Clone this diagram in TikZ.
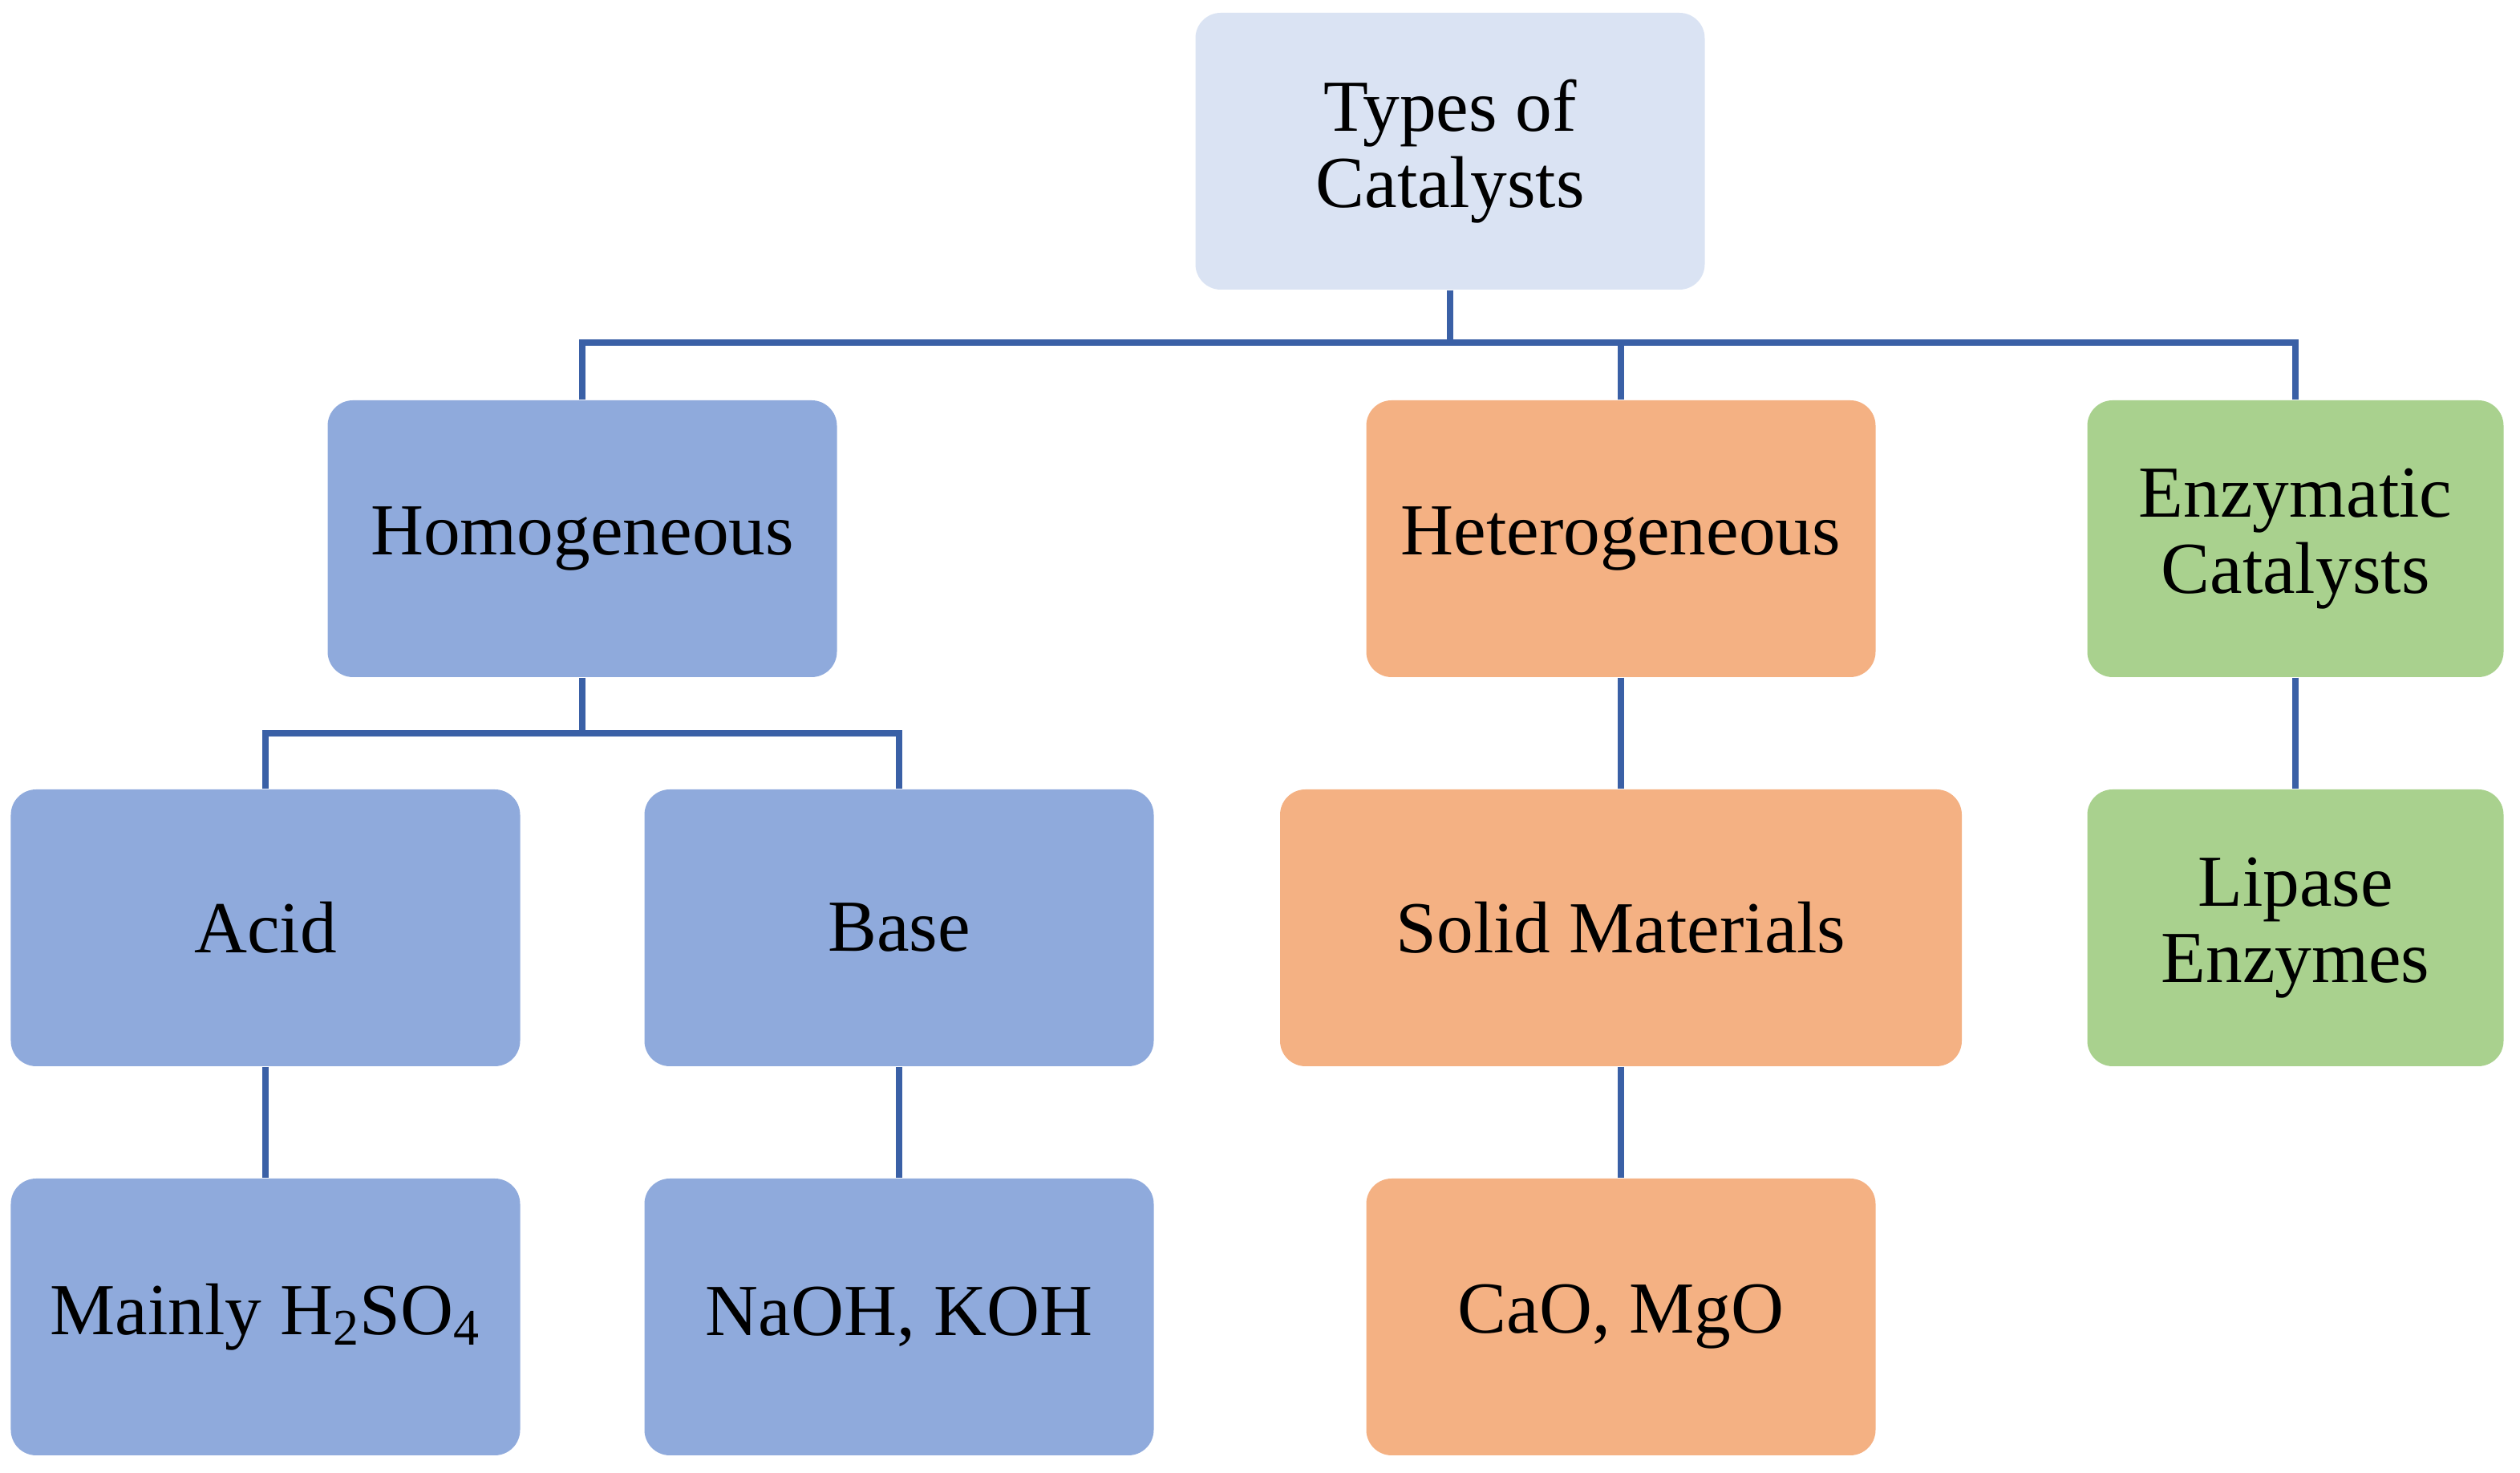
\documentclass[tikz,border=0pt]{standalone}
\usepackage{fontspec}
\setmainfont{Liberation Serif}
\usepackage{xcolor}
\usetikzlibrary{positioning,calc}

\definecolor{topfill}{HTML}{DAE3F3}
\definecolor{homfill}{HTML}{8FAADC}
\definecolor{hetfill}{HTML}{F4B183}
\definecolor{enzfill}{HTML}{A9D18E}
\definecolor{linkblue}{HTML}{3A60A6}

\begin{document}
\begin{tikzpicture}[
  box/.style={rounded corners=9pt,minimum width=6.35cm,minimum height=3.45cm,
              inner sep=0pt,align=center,font=\fontsize{26}{27}\selectfont},
  link/.style={draw=linkblue,line width=2.4pt},
]
\useasboundingbox (0,0) rectangle (31.42,18.36);
\node[box,fill=topfill] (types) at (18.08,16.475) {Types of\\Catalysts};
\node[box,fill=homfill] (homo) at (7.26,11.645) {Homogeneous};
\node[box,fill=hetfill] (hetero) at (20.21,11.645) {Heterogeneous};
\node[box,fill=enzfill,minimum width=5.19cm] (enzyme) at (28.62,11.645) {Enzymatic\\Catalysts};
\node[box,fill=homfill] (acid) at (3.31,6.795) {Acid};
\node[box,fill=homfill] (base) at (11.21,6.795) {Base};
\node[box,fill=hetfill,minimum width=8.5cm] (solid) at (20.21,6.795) {Solid Materials};
\node[box,fill=enzfill,minimum width=5.19cm] (lipase) at (28.62,6.795) {Lipase\\Enzymes};
\node[box,fill=homfill] (sulfuric) at (3.31,1.945) {Mainly H\textsubscript{2}SO\textsubscript{4}};
\node[box,fill=homfill] (hydrox) at (11.21,1.945) {NaOH, KOH};
\node[box,fill=hetfill] (oxides) at (20.21,1.945) {CaO, MgO};
\coordinate (mainbar) at (0,14.09);
\coordinate (homobar) at (0,9.22);
\draw[link] (types.south) -- (types.south |- mainbar);
\draw[link] (homo.north) |- (enzyme.north |- mainbar) -- (enzyme.north);
\draw[link] (hetero.north) -- (hetero.north |- mainbar);
\draw[link] (homo.south) -- (homo.south |- homobar);
\draw[link] (acid.north) |- (base.north |- homobar) -- (base.north);
\draw[link] (acid) -- (sulfuric);
\draw[link] (base) -- (hydrox);
\draw[link] (hetero) -- (solid);
\draw[link] (solid) -- (oxides);
\draw[link] (enzyme) -- (lipase);
\end{tikzpicture}
\end{document}
